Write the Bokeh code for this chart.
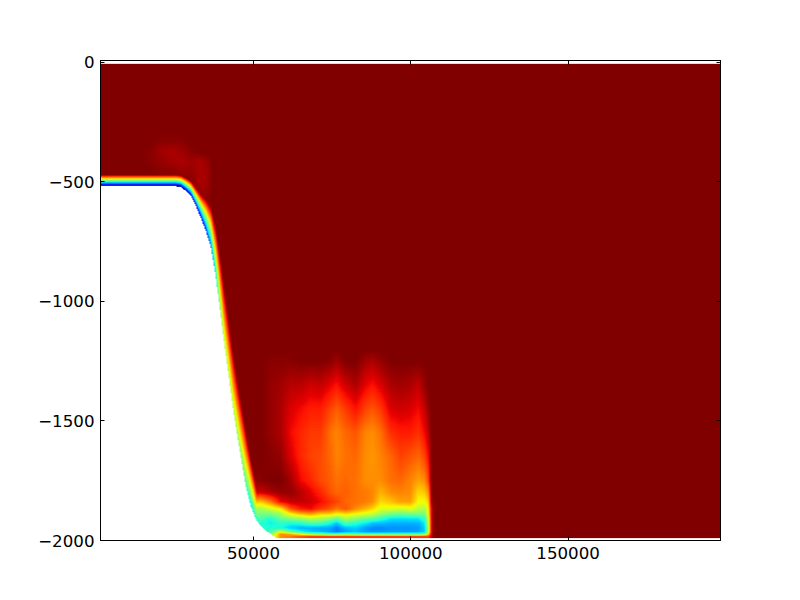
import numpy as np
from bokeh.embed import file_html
from bokeh.models import FixedTicker, LinearAxis, LinearColorMapper, Range1d
from bokeh.plotting import figure
from bokeh.resources import INLINE

# Axis
x_ticks = [50000, 100000, 150000]
x_labels = ["50000", "100000", "150000"]
y_ticks = [0, -500, -1000, -1500, -2000]
y_labels = ["0", "\u2212500", "\u22121000", "\u22121500", "\u22122000"]
x_limits = (1366, 198440)
y_limits = (-2000, 8)
field_x = (1366, 198440)
field_z = (-1990, -6)

# Sea floor and the thin rainbow layer that follows it
floor_x = [1400, 25210, 26800, 28390, 29980, 31570, 33160, 34750, 36340, 37930, 39520, 40470,
           42060, 43330, 44600, 45870, 47460, 49050, 50640, 52230, 53820, 55410, 57000, 106000, 198400]
floor_z = [-517, -517, -521, -537, -558, -600, -650, -704, -771, -900, -1062, -1162,
           -1317, -1442, -1550, -1650, -1775, -1858, -1912, -1942, -1962, -1975, -1990, -1995, -1995]
layer_height = [48, 48, 50, 56, 64, 78, 100, 135, 170, 215, 235, 240,
                240, 240, 240, 240, 240, 200, 150, 70, 1, 1, 1, 1, 1]
layer_base = [0, 0, 0, .03, .05, .08, .1, .15, .22, .35, .5, .55,
              .55, .55, .52, .5, .42, .35, .38, .4, 1, 1, 1, 1, 1]

# Faint patch above the shelf edge
shelf_x = [14080, 17260, 20440, 23620, 26800, 29980, 33160, 35380, 36970]
shelf_levels = [-280, -325, -370, -415, -460, -500, -580, -640]
shelf_values = [
    [1, 1, 1, 1, 1, 1, 1, 1],
    [1, 1, .99, .99, 1, 1, 1, 1],
    [1, .99, .97, .98, .99, 1, 1, 1],
    [1, .99, .96, .97, .99, 1, 1, 1],
    [1, .99, .97, .96, .98, 1, 1, 1],
    [1, 1, .99, .97, .98, .99, 1, 1],
    [1, 1, 1, .96, .96, .96, .99, 1],
    [1, 1, 1, .98, .97, .97, .99, 1],
    [1, 1, 1, 1, 1, 1, 1, 1],
]

# Plumes in the deep basin, one list per station
deep_x = [49050, 52230, 55410, 58590, 61770, 64950, 68120, 71300, 74480, 76390, 79250, 82430,
          85610, 87830, 90380, 93560, 96740, 99910, 102460, 104370, 105640, 106590, 107550]
deep_levels = [-1200, -1250, -1350, -1450, -1550, -1650, -1750, -1800, -1840,
               -1870, -1890, -1910, -1930, -1950, -1965, -1975, -1985]
deep_values = [
    [1, 1, 1, 1, 1, 1, .99, .93, .72, .55, .5, .44, .4, .4, .4, .4, .4],
    [1, 1, 1, 1, 1, 1, .99, .93, .7, .55, .5, .44, .4, .4, .4, .4, .4],
    [1, .99, .98, .98, .98, .99, 1, .96, .78, .6, .5, .4, .36, .4, .42, .5, .55],
    [1, .99, .97, .96, .96, .98, 1, .98, .9, .66, .55, .48, .4, .38, .6, .76, .76],
    [1, .99, .95, .92, .9, .92, .97, .98, .94, .82, .66, .52, .38, .33, .45, .72, .78],
    [1, 1, .95, .9, .87, .87, .9, .95, .94, .88, .72, .54, .4, .3, .38, .62, .82],
    [1, 1, .93, .88, .85, .84, .87, .91, .93, .9, .75, .58, .44, .3, .33, .5, .85],
    [1, 1, .94, .88, .85, .83, .83, .87, .9, .85, .7, .56, .44, .29, .31, .48, .85],
    [1, .99, .91, .84, .79, .8, .81, .82, .86, .82, .7, .52, .38, .29, .28, .42, .85],
    [1, .97, .89, .81, .77, .77, .79, .8, .84, .78, .66, .48, .32, .25, .25, .42, .85],
    [1, 1, .93, .85, .8, .79, .8, .81, .8, .82, .68, .56, .44, .31, .29, .46, .85],
    [1, 1, .96, .89, .82, .8, .79, .79, .79, .76, .65, .52, .4, .33, .31, .44, .85],
    [1, .97, .91, .84, .77, .76, .76, .78, .78, .72, .62, .48, .36, .28, .28, .42, .85],
    [1, .96, .89, .82, .76, .75, .76, .77, .76, .68, .6, .46, .32, .26, .27, .42, .85],
    [1, .98, .92, .85, .79, .77, .76, .72, .68, .62, .54, .42, .31, .26, .27, .42, .85],
    [1, 1, .96, .92, .86, .8, .79, .76, .7, .62, .5, .36, .3, .27, .28, .42, .85],
    [1, 1, .97, .93, .88, .84, .8, .77, .74, .6, .48, .35, .3, .27, .28, .42, .85],
    [1, 1, .96, .92, .88, .82, .77, .76, .74, .62, .5, .36, .3, .27, .28, .42, .85],
    [1, 1, .94, .9, .86, .8, .74, .68, .64, .58, .5, .36, .3, .28, .29, .42, .85],
    [1, 1, .98, .94, .9, .84, .76, .7, .64, .56, .5, .42, .36, .33, .33, .45, .85],
    [1, 1, 1, .98, .95, .9, .84, .76, .7, .66, .64, .6, .58, .56, .58, .68, .85],
    [1, 1, 1, 1, 1, 1, 1, .99, .97, .93, .93, .93, .93, .93, .93, .94, .95],
    [1, 1, 1, 1, 1, 1, 1, 1, 1, 1, 1, 1, 1, 1, 1, 1, 1],
]


def jet_palette(n=256):
    t = np.linspace(0, 1, n)
    r = np.interp(t, [0, .35, .66, .89, 1], [0, 0, 1, 1, .5])
    g = np.interp(t, [0, .125, .375, .64, .91, 1], [0, 0, 1, 1, 0, 0])
    b = np.interp(t, [0, .11, .34, .65, 1], [.5, 1, 1, 0, 0])
    return ["#%02x%02x%02x" % (round(a * 255), round(c * 255), round(d * 255)) for a, c, d in zip(r, g, b)]


def shade(table, stations, levels, xs, zs):
    """Gouraud-style shading of a read-off table onto the image's pixels."""
    table = np.asarray(table, dtype=float)
    order = np.argsort(levels)
    lv = np.asarray(levels, dtype=float)[order]
    by_z = np.array([np.interp(zs, lv, col[order]) for col in table])
    out = np.array([np.interp(xs, stations, by_z[:, i]) for i in range(len(zs))])
    outside = (xs < stations[0]) | (xs > stations[-1])
    out[:, outside] = 1.0
    return out


nx, nz = 620, 474
xs = np.linspace(field_x[0], field_x[1], nx)
zs = np.linspace(field_z[0], field_z[1], nz)
shelf = shade(shelf_values, shelf_x, shelf_levels, xs, zs)
deep = shade(deep_values, deep_x, deep_levels, xs, zs)
field = np.minimum(shelf, deep)

bottom = np.interp(xs, floor_x, floor_z)
height = np.interp(xs, floor_x, layer_height)
base = np.interp(xs, floor_x, layer_base)
above = zs[:, None] - bottom[None, :]
layer = base + (1 - base) * np.clip(above / height, 0, 1)
field = np.minimum(field, layer)
field[above < 0] = np.nan

p = figure(width=784, height=584, output_backend="svg", toolbar_location=None,
           x_range=Range1d(*x_limits), y_range=Range1d(*y_limits),
           x_axis_location="below", y_axis_location="left",
           min_border_left=100, min_border_right=64, min_border_top=60, min_border_bottom=44,
           background_fill_color="white", border_fill_color="white")
p.grid.visible = False
p.outline_line_color = "black"
p.outline_line_width = 1

mapper = LinearColorMapper(palette=jet_palette(), low=0, high=1, nan_color="rgba(0,0,0,0)")
p.image(image=[field], x=field_x[0], y=field_z[0], dw=field_x[1] - field_x[0],
        dh=field_z[1] - field_z[0], color_mapper=mapper)

x_over = dict(zip(x_ticks, x_labels))
y_over = dict(zip(y_ticks, y_labels))


def style(ax, ticks, over, show):
    ax.ticker = FixedTicker(ticks=ticks)
    ax.major_label_overrides = over
    ax.major_tick_in = 4
    ax.major_tick_out = 0
    ax.minor_tick_in = 0
    ax.minor_tick_out = 0
    ax.axis_line_color = "black"
    ax.major_tick_line_color = "black"
    ax.major_label_text_font = "DejaVu Sans"
    ax.major_label_text_font_size = "16.67px"
    ax.major_label_text_color = "black"
    ax.major_label_standoff = 6
    if not show:
        ax.major_label_text_color = None
        ax.major_label_text_font_size = "1px"
        ax.major_label_standoff = 0


style(p.xaxis[0], x_ticks, x_over, True)
style(p.yaxis[0], y_ticks, y_over, True)
top = LinearAxis()
right = LinearAxis()
style(top, x_ticks, x_over, False)
style(right, y_ticks, y_over, False)
p.add_layout(top, "above")
p.add_layout(right, "right")

open("out.html", "w").write(file_html(p, INLINE))
